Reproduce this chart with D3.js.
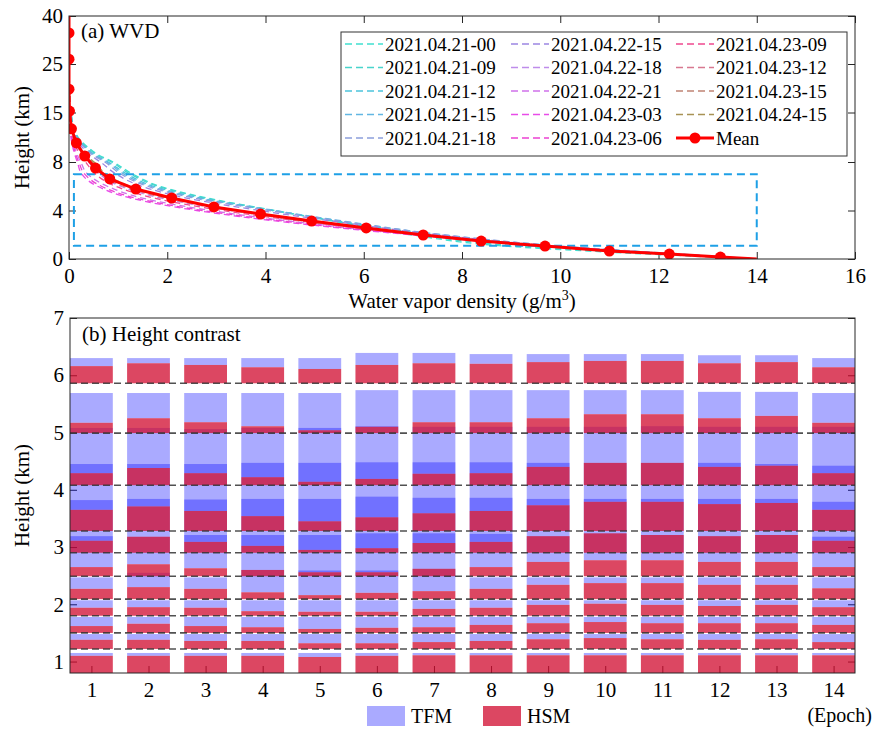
<!DOCTYPE html>
<html lang="en">
<head>
<meta charset="UTF-8">
<title>WVD profiles and height contrast</title>
<script src="https://d3js.org/d3.v7.min.js"></script>
<style>
  body { margin: 0; background: #fff; }
  text { font-family: "Liberation Serif", "Times New Roman", serif; fill: #000; }
</style>
</head>
<body>
<script>
// ---------- panel (a): water vapour density profiles ----------
const profileHeights = [40, 30, 20, 15, 12, 10, 9, 8, 7, 6, 5, 4, 3, 2, 1, 0.5, 0];

const epochNames = [
  "2021.04.21-00", "2021.04.21-09", "2021.04.21-12", "2021.04.21-15", "2021.04.21-18",
  "2021.04.22-15", "2021.04.22-18", "2021.04.22-21", "2021.04.23-03", "2021.04.23-06",
  "2021.04.23-09", "2021.04.23-12", "2021.04.23-15", "2021.04.24-15"
];

const epochColors = [
  "#40e0d0", "#48d4cc", "#4cc4dc", "#62b6e2", "#8c9edc",
  "#9c86e2", "#be8cea", "#d072ea", "#e84ce8", "#ec42d2",
  "#f0488e", "#d87890", "#c08474", "#a89254"
];

// WVD (g/m3) of each epoch at profileHeights
const epochProfiles = [
  [0, 0, 0.01, 0.04, 0.14, 0.40, 0.60, 0.90, 1.30, 1.85, 2.85, 4.20, 5.60, 6.95, 9.1, 11.3, 14.0],
  [0, 0, 0.01, 0.04, 0.14, 0.38, 0.57, 0.86, 1.25, 1.80, 2.80, 4.15, 5.55, 7.05, 9.4, 11.6, 14.0],
  [0, 0, 0.01, 0.04, 0.13, 0.35, 0.53, 0.80, 1.18, 1.72, 2.72, 4.15, 5.70, 7.40, 10.0, 12.0, 14.0],
  [0, 0, 0.01, 0.03, 0.12, 0.34, 0.51, 0.77, 1.12, 1.66, 2.66, 4.18, 5.80, 7.60, 10.2, 12.1, 14.0],
  [0, 0, 0.01, 0.03, 0.11, 0.32, 0.48, 0.73, 1.06, 1.60, 2.58, 4.08, 5.74, 7.60, 10.2, 12.0, 14.0],
  [0, 0, 0.01, 0.03, 0.10, 0.28, 0.43, 0.64, 0.96, 1.48, 2.42, 3.88, 5.58, 7.50, 10.1, 12.0, 14.0],
  [0, 0, 0.01, 0.02, 0.07, 0.19, 0.28, 0.40, 0.62, 1.05, 1.90, 3.30, 5.10, 7.30, 10.0, 11.9, 14.0],
  [0, 0, 0.00, 0.01, 0.05, 0.12, 0.17, 0.24, 0.38, 0.78, 1.52, 2.88, 4.75, 7.10, 9.9, 11.9, 14.0],
  [0, 0, 0.00, 0.01, 0.03, 0.08, 0.12, 0.17, 0.26, 0.58, 1.28, 2.60, 4.50, 6.95, 9.9, 11.9, 14.0],
  [0, 0, 0.00, 0.01, 0.04, 0.10, 0.14, 0.20, 0.32, 0.66, 1.38, 2.72, 4.62, 7.00, 9.9, 11.9, 14.0],
  [0, 0, 0.01, 0.02, 0.06, 0.15, 0.23, 0.34, 0.54, 0.95, 1.76, 3.12, 4.95, 7.10, 9.9, 11.9, 14.0],
  [0, 0, 0.01, 0.02, 0.07, 0.19, 0.29, 0.43, 0.66, 1.10, 1.98, 3.30, 5.02, 7.15, 9.9, 11.9, 14.0],
  [0, 0, 0.01, 0.02, 0.08, 0.21, 0.32, 0.48, 0.72, 1.18, 2.06, 3.38, 5.08, 7.20, 9.9, 11.8, 14.0],
  [0, 0, 0.01, 0.02, 0.08, 0.22, 0.34, 0.51, 0.76, 1.24, 2.12, 3.44, 5.14, 7.22, 9.9, 11.8, 14.0]
];

const meanWvd    = [0, 0, 0, 0, 0.01, 0.05, 0.15, 0.32, 0.54, 0.83, 1.36, 2.09, 2.95, 3.90, 4.94, 6.05, 7.21, 8.39, 9.69, 11.0, 12.22, 13.26, 14.0];
const meanHeight = [40, 34.7, 26.5, 19.8, 15.3, 12.7, 10.7, 8.85, 7.5, 6.6, 5.77, 5.03, 4.29, 3.71, 3.13, 2.56, 1.98, 1.48, 1.07, 0.66, 0.41, 0.16, 0];

const boxWvd = [0.1, 14];
const boxHeight = [1.1, 7];

const wvdTicks = [0, 2, 4, 6, 8, 10, 12, 14, 16];
const heightTicksA = [0, 4, 8, 15, 25, 40];

// ---------- panel (b): layer heights per epoch ----------
const epochs = [1, 2, 3, 4, 5, 6, 7, 8, 9, 10, 11, 12, 13, 14];
const layerBase = [0.8, 1.22, 1.50, 1.80, 2.09, 2.49, 2.90, 3.28, 4.08, 4.99, 5.86];
const boundaryLines = [1.22, 1.50, 1.80, 2.09, 2.49, 2.90, 3.28, 4.08, 4.99, 5.86];

// HSM layer top (km), one row per layer, one value per epoch
const hsmTop = [
  [1.10, 1.10, 1.10, 1.10, 1.08, 1.10, 1.11, 1.11, 1.11, 1.11, 1.11, 1.11, 1.11, 1.11],
  [1.38, 1.38, 1.36, 1.36, 1.32, 1.32, 1.34, 1.36, 1.39, 1.41, 1.39, 1.38, 1.39, 1.34],
  [1.62, 1.66, 1.62, 1.60, 1.57, 1.59, 1.60, 1.64, 1.67, 1.69, 1.67, 1.67, 1.67, 1.64],
  [1.94, 1.95, 1.94, 1.88, 1.87, 1.87, 1.92, 1.94, 1.99, 2.01, 1.99, 1.97, 1.99, 1.95],
  [2.27, 2.30, 2.27, 2.21, 2.16, 2.20, 2.23, 2.27, 2.34, 2.37, 2.37, 2.34, 2.34, 2.28],
  [2.65, 2.70, 2.63, 2.60, 2.56, 2.56, 2.62, 2.65, 2.74, 2.77, 2.77, 2.74, 2.74, 2.65],
  [3.11, 3.18, 3.09, 3.02, 2.95, 2.98, 3.07, 3.09, 3.19, 3.24, 3.21, 3.19, 3.21, 3.11],
  [3.65, 3.71, 3.63, 3.54, 3.45, 3.52, 3.59, 3.63, 3.73, 3.79, 3.79, 3.75, 3.77, 3.65],
  [4.29, 4.38, 4.29, 4.22, 4.14, 4.19, 4.28, 4.29, 4.40, 4.47, 4.47, 4.40, 4.42, 4.29],
  [5.17, 5.25, 5.18, 5.11, 5.04, 5.10, 5.18, 5.18, 5.25, 5.32, 5.32, 5.25, 5.29, 5.17],
  [6.16, 6.21, 6.18, 6.14, 6.11, 6.18, 6.21, 6.20, 6.23, 6.25, 6.25, 6.21, 6.23, 6.14]
];

// TFM layer top (km); TFM layer starts where the HSM layer ends
const tfmTop = [
  [1.15, 1.15, 1.15, 1.15, 1.15, 1.15, 1.15, 1.15, 1.15, 1.15, 1.15, 1.15, 1.15, 1.15],
  [1.48, 1.48, 1.48, 1.48, 1.48, 1.48, 1.48, 1.48, 1.48, 1.48, 1.48, 1.48, 1.48, 1.48],
  [1.78, 1.78, 1.78, 1.78, 1.78, 1.78, 1.78, 1.78, 1.78, 1.78, 1.78, 1.78, 1.78, 1.78],
  [2.07, 2.07, 2.07, 2.07, 2.07, 2.07, 2.07, 2.07, 2.07, 2.07, 2.07, 2.07, 2.07, 2.07],
  [2.47, 2.55, 2.47, 2.60, 2.59, 2.59, 2.62, 2.47, 2.47, 2.47, 2.47, 2.47, 2.47, 2.47],
  [3.19, 3.18, 3.21, 3.21, 3.21, 3.24, 3.24, 3.23, 3.19, 3.24, 3.21, 3.19, 3.21, 3.18],
  [3.82, 3.84, 3.83, 3.84, 3.84, 3.88, 3.86, 3.86, 3.84, 3.84, 3.84, 3.84, 3.84, 3.79],
  [4.45, 4.45, 4.45, 4.47, 4.47, 4.48, 4.48, 4.48, 4.47, 4.47, 4.47, 4.47, 4.45, 4.42],
  [5.08, 5.08, 5.06, 5.08, 5.08, 5.11, 5.10, 5.10, 5.10, 5.10, 5.11, 5.10, 5.10, 5.10],
  [5.69, 5.69, 5.69, 5.69, 5.69, 5.74, 5.74, 5.74, 5.74, 5.74, 5.74, 5.71, 5.71, 5.69],
  [6.30, 6.30, 6.30, 6.30, 6.30, 6.39, 6.39, 6.37, 6.37, 6.37, 6.37, 6.35, 6.35, 6.30]
];

const heightTicksB = [1, 2, 3, 4, 5, 6, 7];

// ---------- drawing ----------
const W = 880, H = 733;
const axisColor = "#262626";
const serif = '"Liberation Serif", "Times New Roman", serif';
const tfmColor = "#0000ff", tfmAlpha = 0.333;
const hsmColor = "rgb(208,10,45)", hsmAlpha = 0.75;

const svg = d3.select("body").append("svg")
  .attr("width", W)
  .attr("height", H)
  .attr("font-family", serif);

function styleAxis(g, size) {
  g.attr("font-family", serif)
    .attr("font-size", size)
    .attr("color", axisColor);
  g.select(".domain").remove();
  g.selectAll("text").attr("fill", "#000");
}

// ===== panel (a) =====
const xA = d3.scaleLinear().domain([0, 16]).range([69, 855]);
const yA = d3.scaleLinear().domain([0, 4, 8, 15, 25, 40]).range([259, 210.5, 162, 112.5, 64, 16]);

svg.append("clipPath").attr("id", "clipA")
  .append("rect")
  .attr("x", xA(0)).attr("y", yA(40))
  .attr("width", xA(16) - xA(0)).attr("height", yA(0) - yA(40));

svg.append("g").attr("transform", `translate(0,${yA(0)})`)
  .call(d3.axisBottom(xA).tickValues(wvdTicks).tickSize(-7).tickPadding(9).tickFormat(d3.format("d")))
  .call(g => styleAxis(g, 21));
svg.append("g").attr("transform", `translate(0,${yA(40)})`)
  .call(d3.axisTop(xA).tickValues(wvdTicks).tickSize(-7).tickFormat(""))
  .call(g => styleAxis(g, 21));
svg.append("g").attr("transform", `translate(${xA(0)},0)`)
  .call(d3.axisLeft(yA).tickValues(heightTicksA).tickSize(-7).tickPadding(6).tickFormat(d3.format("d")))
  .call(g => styleAxis(g, 21));
svg.append("g").attr("transform", `translate(${xA(16)},0)`)
  .call(d3.axisRight(yA).tickValues(heightTicksA).tickSize(-7).tickFormat(""))
  .call(g => styleAxis(g, 21));

const plotA = svg.append("g").attr("clip-path", "url(#clipA)");

const profileLine = d3.line()
  .x(d => xA(d[0]))
  .y(d => yA(d[1]))
  .curve(d3.curveMonotoneY);

epochProfiles.forEach((vals, i) => {
  plotA.append("path")
    .attr("d", profileLine(vals.map((v, j) => [v, profileHeights[j]])))
    .attr("fill", "none")
    .attr("stroke", epochColors[i])
    .attr("stroke-width", 1.3)
    .attr("stroke-dasharray", "6,4");
});

// dashed region box
plotA.append("rect")
  .attr("x", xA(boxWvd[0]))
  .attr("y", yA(boxHeight[1]))
  .attr("width", xA(boxWvd[1]) - xA(boxWvd[0]))
  .attr("height", yA(boxHeight[0]) - yA(boxHeight[1]))
  .attr("fill", "none")
  .attr("stroke", "#1ea0e6")
  .attr("stroke-width", 2)
  .attr("stroke-dasharray", "8,5");

const meanPts = meanWvd.map((v, i) => [v, meanHeight[i]]);
plotA.append("path")
  .attr("d", d3.line().x(d => xA(d[0])).y(d => yA(d[1]))(meanPts))
  .attr("fill", "none")
  .attr("stroke", "#ff0000")
  .attr("stroke-width", 3);

plotA.selectAll("circle.mean")
  .data(meanPts.filter(d => d[1] > 0.05 && d[1] < 39))
  .enter()
  .append("circle")
  .attr("class", "mean")
  .attr("cx", d => xA(d[0]))
  .attr("cy", d => yA(d[1]))
  .attr("r", 5.5)
  .attr("fill", "#ff0000");

svg.append("rect")
  .attr("x", xA(0)).attr("y", yA(40))
  .attr("width", xA(16) - xA(0)).attr("height", yA(0) - yA(40))
  .attr("fill", "none").attr("stroke", axisColor).attr("stroke-width", 1);

svg.append("text").attr("x", 81).attr("y", 38).attr("font-size", 21).text("(a) WVD");

// legend of panel (a)
const legA = svg.append("g");
legA.append("rect")
  .attr("x", 341).attr("y", 32).attr("width", 506).attr("height", 124)
  .attr("fill", "#fff").attr("stroke", "#333").attr("stroke-width", 1);

const colX = [345, 511, 676];
const rowY = d => 44 + d * 23.5;
const legendItems = epochNames.map((n, i) => ({ name: n, color: epochColors[i], mean: false }))
  .concat([{ name: "Mean", color: "#ff0000", mean: true }]);

legendItems.forEach((d, i) => {
  const cx = colX[Math.floor(i / 5)];
  const cy = rowY(i % 5);
  legA.append("line")
    .attr("x1", cx).attr("x2", cx + 38).attr("y1", cy).attr("y2", cy)
    .attr("stroke", d.color)
    .attr("stroke-width", d.mean ? 3 : 1.3)
    .attr("stroke-dasharray", d.mean ? null : "7,4");
  if (d.mean) {
    legA.append("circle").attr("cx", cx + 19).attr("cy", cy).attr("r", 5.5).attr("fill", d.color);
  }
  legA.append("text")
    .attr("x", cx + 40).attr("y", cy)
    .attr("dy", "0.35em")
    .attr("font-size", 19)
    .text(d.name);
});

// axis titles (a)
const xTitle = svg.append("text")
  .attr("x", 462).attr("y", 308)
  .attr("text-anchor", "middle")
  .attr("font-size", 21);
xTitle.append("tspan").text("Water vapor density (g/m");
xTitle.append("tspan").attr("font-size", 14).attr("dy", -8).text("3");
xTitle.append("tspan").attr("dy", 8).text(")");

svg.append("text")
  .attr("transform", `translate(29,${(yA(0) + yA(40)) / 2}) rotate(-90)`)
  .attr("text-anchor", "middle")
  .attr("font-size", 21)
  .text("Height (km)");

// ===== panel (b) =====
const xB = d3.scaleLinear().domain([0.625, 14.375]).range([70, 855]);
const yB = d3.scaleLinear().domain([0.8, 7]).range([673, 318]);
const barW = xB(0.75) - xB(0);

svg.append("g").attr("transform", `translate(0,${yB(0.8)})`)
  .call(d3.axisBottom(xB).tickValues(epochs).tickSize(-7).tickPadding(9).tickFormat(d3.format("d")))
  .call(g => styleAxis(g, 21));
svg.append("g").attr("transform", `translate(${xB(0.625)},0)`)
  .call(d3.axisLeft(yB).tickValues(heightTicksB).tickSize(-7).tickPadding(6).tickFormat(d3.format("d")))
  .call(g => styleAxis(g, 21));
svg.append("g").attr("transform", `translate(${xB(14.375)},0)`)
  .call(d3.axisRight(yB).tickValues(heightTicksB).tickSize(-7).tickFormat(""))
  .call(g => styleAxis(g, 21));

const tfmRects = [], hsmRects = [];
layerBase.forEach((base, k) => {
  epochs.forEach((e, i) => {
    hsmRects.push({ e, y0: base, y1: hsmTop[k][i] });
    tfmRects.push({ e, y0: hsmTop[k][i], y1: tfmTop[k][i] });
  });
});

const plotB = svg.append("g");
plotB.selectAll("rect.tfm")
  .data(tfmRects)
  .enter()
  .append("rect")
  .attr("class", "tfm")
  .attr("x", d => xB(d.e) - barW / 2)
  .attr("width", barW)
  .attr("y", d => yB(d.y1))
  .attr("height", d => Math.max(0, yB(d.y0) - yB(d.y1)))
  .attr("fill", tfmColor)
  .attr("fill-opacity", tfmAlpha);

plotB.selectAll("rect.hsm")
  .data(hsmRects)
  .enter()
  .append("rect")
  .attr("class", "hsm")
  .attr("x", d => xB(d.e) - barW / 2)
  .attr("width", barW)
  .attr("y", d => yB(d.y1))
  .attr("height", d => Math.max(0, yB(d.y0) - yB(d.y1)))
  .attr("fill", hsmColor)
  .attr("fill-opacity", hsmAlpha);

plotB.selectAll("line.boundary")
  .data(boundaryLines)
  .enter()
  .append("line")
  .attr("class", "boundary")
  .attr("x1", xB(0.625)).attr("x2", xB(14.375))
  .attr("y1", d => yB(d)).attr("y2", d => yB(d))
  .attr("stroke", "#333")
  .attr("stroke-opacity", 0.85)
  .attr("stroke-width", 1.6)
  .attr("stroke-dasharray", "7,4");

svg.append("rect")
  .attr("x", xB(0.625)).attr("y", yB(7))
  .attr("width", xB(14.375) - xB(0.625)).attr("height", yB(0.8) - yB(7))
  .attr("fill", "none").attr("stroke", axisColor).attr("stroke-width", 1);

svg.append("text").attr("x", 82).attr("y", 341).attr("font-size", 21).text("(b) Height contrast");

svg.append("text")
  .attr("transform", `translate(29,${(yB(0.8) + yB(7)) / 2}) rotate(-90)`)
  .attr("text-anchor", "middle")
  .attr("font-size", 21)
  .text("Height (km)");

svg.append("text")
  .attr("x", xB(14) + 6).attr("y", 722)
  .attr("text-anchor", "middle")
  .attr("font-size", 20)
  .text("(Epoch)");

// legend of panel (b)
const legB = [
  { name: "TFM", x: 367, fill: tfmColor, alpha: tfmAlpha },
  { name: "HSM", x: 483, fill: hsmColor, alpha: hsmAlpha }
];
legB.forEach(d => {
  svg.append("rect")
    .attr("x", d.x).attr("y", 706).attr("width", 38).attr("height", 20)
    .attr("fill", d.fill).attr("fill-opacity", d.alpha);
  svg.append("text")
    .attr("x", d.x + 44).attr("y", 716)
    .attr("dy", "0.35em")
    .attr("font-size", 20)
    .text(d.name);
});
</script>
</body>
</html>
